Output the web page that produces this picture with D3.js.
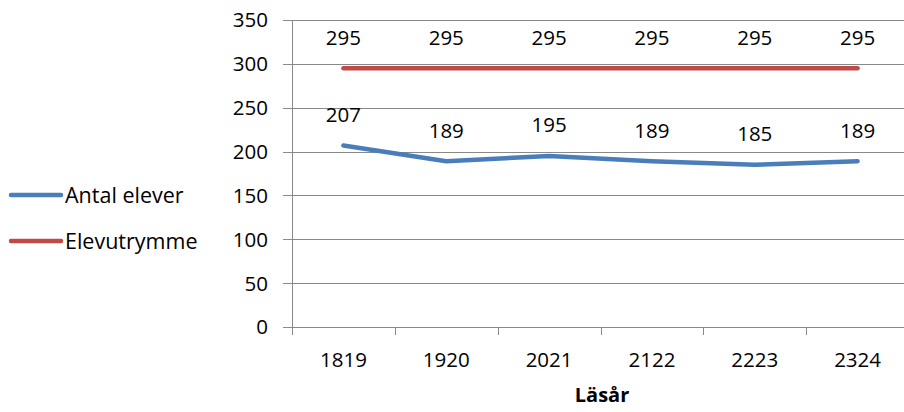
<!DOCTYPE html>
<html><head><meta charset="utf-8">
<script src="https://cdn.jsdelivr.net/npm/d3@7"></script>
<style>body{margin:0;background:#fff}text{font-family:"Open Sans",sans-serif}</style>
</head><body><svg id="c" width="904" height="412"></svg>
<script>
const categories = ["1819","1920","2021","2122","2223","2324"];
const antalElever = [207,189,195,189,185,189];
const elevutrymme = [295,295,295,295,295,295];
const yTicks = [0,50,100,150,200,250,300,350];
const seriesNames = ["Antal elever","Elevutrymme"];
const colors = ["#4a7ebb","#be4b48"];

(function(){
const svg = d3.select("#c");
const pL = 292, pR = 909, pT = 20, pB = 327;
const x = d3.scaleBand().domain(categories).range([pL, pR]);
const y = d3.scaleLinear().domain([0,350]).range([pB, pT]);
const grey = "#898989";
const fs = 20.5;

svg.append("g").selectAll("line").data(yTicks).join("line")
  .attr("x1", pL - 9).attr("x2", pR).attr("y1", d=>Math.round(y(d))+0.5).attr("y2", d=>Math.round(y(d))+0.5)
  .attr("stroke", grey).attr("stroke-width", 1);
svg.append("line").attr("x1", pL+0.5).attr("x2", pL+0.5).attr("y1", pT).attr("y2", pB+8)
  .attr("stroke", grey);
const bounds = categories.map(c=>x(c)).concat([pR]);
svg.append("g").selectAll("line").data(bounds).join("line")
  .attr("x1", d=>Math.round(d)+0.5).attr("x2", d=>Math.round(d)+0.5)
  .attr("y1", pB).attr("y2", pB+8).attr("stroke", grey);
svg.append("g").selectAll("text").data(yTicks).join("text")
  .attr("x", 268).attr("y", d=>y(d)).attr("dy","0.36em").attr("text-anchor","end")
  .attr("font-size", fs).attr("fill","#000").text(d=>d);
svg.append("g").selectAll("text").data(categories).join("text")
  .attr("x", d=>x(d)+x.bandwidth()/2).attr("y", 360).attr("dy","0.36em").attr("text-anchor","middle")
  .attr("font-size", fs).attr("fill","#000").text(d=>d);
svg.append("text").attr("x", 602).attr("y", 395).attr("dy","0.36em").attr("text-anchor","middle")
  .attr("font-size", 20).attr("font-weight","bold").text("Läsår");

const line = d3.line().x((d,i)=>x(categories[i])+x.bandwidth()/2).y(d=>y(d));
[antalElever, elevutrymme].forEach((s,k)=>{
  svg.append("path").datum(s).attr("d", line).attr("fill","none")
    .attr("stroke", colors[k]).attr("stroke-width", 4.5).attr("stroke-linecap","round").attr("stroke-linejoin","round");
  svg.append("g").selectAll("text").data(s).join("text")
    .attr("x",(d,i)=>x(categories[i])+x.bandwidth()/2).attr("y", d=>y(d)-31)
    .attr("dy","0.36em").attr("text-anchor","middle").attr("font-size",fs).text(d=>d);
});

const lg = svg.append("g");
seriesNames.forEach((n,k)=>{
  const yy = 195 + k*46;
  lg.append("line").attr("x1",11).attr("x2",61).attr("y1",yy).attr("y2",yy)
    .attr("stroke",colors[k]).attr("stroke-width",4.5).attr("stroke-linecap","round");
  lg.append("text").attr("x",65).attr("y",yy).attr("dy","0.36em").attr("font-size",21.5).text(n);
});
})();
</script></body></html>
